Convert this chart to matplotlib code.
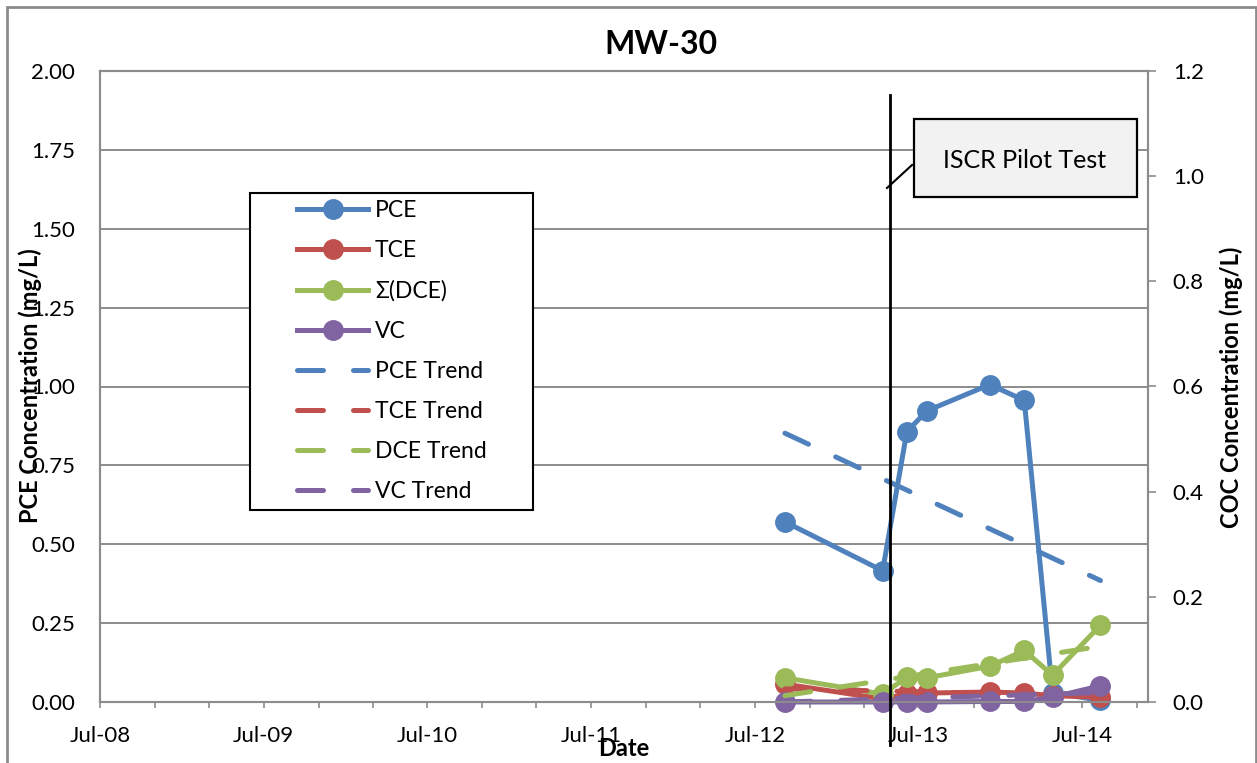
import datetime as dt
import numpy as np
import matplotlib
matplotlib.use("Agg")
import matplotlib.pyplot as plt
import matplotlib.dates as mdates
import matplotlib.ticker as mticker
from matplotlib.patches import Rectangle
from matplotlib.lines import Line2D

plt.rcParams['font.family'] = ['Lato', 'DejaVu Sans']

# sample dates and concentrations (mg/L)
dates = np.array(['2012-09-06', '2013-04-12', '2013-06-05', '2013-07-20',
                  '2013-12-07', '2014-02-22', '2014-04-26', '2014-08-11'], dtype='datetime64[D]')
pce = [0.571, 0.416, 0.857, 0.923, 1.006, 0.956, 0.030, 0.005]
tce = [0.034, 0.006, 0.015, 0.017, 0.019, 0.017, 0.012, 0.009]
dce = [0.046, 0.015, 0.047, 0.046, 0.068, 0.098, 0.051, 0.146]
vc = [0.000, 0.000, 0.000, 0.000, 0.001, 0.001, 0.009, 0.031]

# linear trend lines (start / end values)
trend_dates = np.array(['2012-09-06', '2014-08-11'], dtype='datetime64[D]')
pce_trend = [0.852, 0.385]
tce_trend = [0.025, 0.012]
dce_trend = [0.012, 0.106]
vc_trend = [0.000, 0.018]

pilot_date = np.datetime64('2013-04-29')

blue, red, green, purple = '#4F81BD', '#C0504D', '#9BBB59', '#8064A2'
gray = '#8c8c8c'

W, H = 1257, 763
def fx(px):
    return px / W
def fy(py):
    return 1 - py / H

fig = plt.figure(figsize=(W / 100, H / 100), dpi=100)
ax = fig.add_axes([fx(100), fy(702), fx(1148) - fx(100), fy(71) - fy(702)])
ax2 = ax.twinx()

lw, ms = 3.6, 14
dash = (5.2, 6.0)

l_pce, = ax.plot(dates, pce, '-o', color=blue, lw=lw, ms=ms, clip_on=False, zorder=3)
t_pce, = ax.plot(trend_dates, pce_trend, color=blue, lw=lw, dashes=dash,
                 dash_capstyle='round', zorder=3)

l_tce, = ax2.plot(dates, tce, '-o', color=red, lw=lw, ms=ms, clip_on=False)
l_dce, = ax2.plot(dates, dce, '-o', color=green, lw=lw, ms=ms, clip_on=False)
l_vc, = ax2.plot(dates, vc, '-o', color=purple, lw=lw, ms=ms, clip_on=False)
t_tce, = ax2.plot(trend_dates, tce_trend, color=red, lw=lw, dashes=dash, dash_capstyle='round')
t_dce, = ax2.plot(trend_dates, dce_trend, color=green, lw=lw, dashes=dash, dash_capstyle='round')
t_vc, = ax2.plot(trend_dates, vc_trend, color=purple, lw=lw, dashes=dash, dash_capstyle='round')

# axes limits and ticks
ax.set_xlim(dt.date(2008, 7, 1), dt.date(2014, 11, 25))
ax.xaxis.set_major_locator(mdates.MonthLocator(bymonth=7))
ax.xaxis.set_major_formatter(mdates.DateFormatter('%b-%y'))
ax.xaxis.set_minor_locator(mdates.MonthLocator(bymonth=[3, 7, 11]))
ax.tick_params(axis='x', which='both', direction='out', length=4.3, width=1.2,
               color=gray, pad=13, labelsize=16)

ax.set_ylim(0, 2)
ax.yaxis.set_major_locator(mticker.MultipleLocator(0.25))
ax.yaxis.set_major_formatter(mticker.FormatStrFormatter('%.2f'))
ax.tick_params(axis='y', length=0, pad=18, labelsize=16)
ax.yaxis.grid(True, color=gray, lw=1.4)
ax.set_axisbelow(True)

ax2.set_ylim(0, 1.2)
ax2.yaxis.set_major_locator(mticker.MultipleLocator(0.2))
ax2.yaxis.set_major_formatter(mticker.FormatStrFormatter('%.1f'))
ax2.tick_params(axis='y', direction='out', length=5.8, width=1.2, color=gray,
                pad=12, labelsize=16)

for a in (ax, ax2):
    for s in a.spines.values():
        s.set_color(gray)
        s.set_linewidth(1.5)

# ISCR pilot test marker line
ax2.axvline(pilot_date, ymin=-0.068, ymax=0.962, color='black', lw=2,
            clip_on=False, zorder=10)

# legend with fixed frame
frame = Rectangle((0.1431, 0.3043), 0.2701, 0.5024, transform=ax2.transAxes,
                  facecolor='white', edgecolor='black', lw=1.5, zorder=5)
ax2.add_patch(frame)
handles = [l_pce, l_tce, l_dce, l_vc, t_pce, t_tce, t_dce, t_vc]
labels = ['PCE', 'TCE', 'Σ(DCE)', 'VC', 'PCE Trend', 'TCE Trend', 'DCE Trend', 'VC Trend']
leg = ax2.legend(handles, labels, loc='upper left', bbox_to_anchor=(0.188, 0.795),
                 frameon=False, borderpad=0, borderaxespad=0, fontsize=16.5,
                 handlelength=3.1, handletextpad=0.3, labelspacing=0.83, numpoints=1)
leg.set_zorder(6)

# callout box
fig.add_artist(Rectangle((fx(914), fy(197)), fx(1137) - fx(914), fy(119) - fy(197),
                         transform=fig.transFigure, facecolor='#f2f2f2',
                         edgecolor='black', lw=1.6))
fig.text(fx(1025), fy(160), 'ISCR Pilot Test', ha='center', va='center', fontsize=18)
fig.add_artist(Line2D([fx(887), fx(912)], [fy(188), fy(165)], transform=fig.transFigure,
                      color='black', lw=1.5))

# titles and labels
fig.text(fx(661), fy(45), 'MW-30', ha='center', va='center', fontsize=23, fontweight='bold')
fig.text(fx(30), fy(386), 'PCE Concentration (mg/L)', rotation=90, ha='center',
         va='center', fontsize=17, fontweight='bold')
fig.text(fx(1231), fy(387), 'COC Concentration (mg/L)', rotation=90, ha='center',
         va='center', fontsize=17, fontweight='bold')
fig.text(fx(624), fy(748), 'Date', ha='center', va='center', fontsize=17, fontweight='bold')

# chart border
fig.add_artist(Rectangle((fx(7), -0.02), fx(1256) - fx(7), fy(7) + 0.02,
                         transform=fig.transFigure, fill=False, edgecolor=gray, lw=2))

fig.savefig('out.png', dpi=100)
